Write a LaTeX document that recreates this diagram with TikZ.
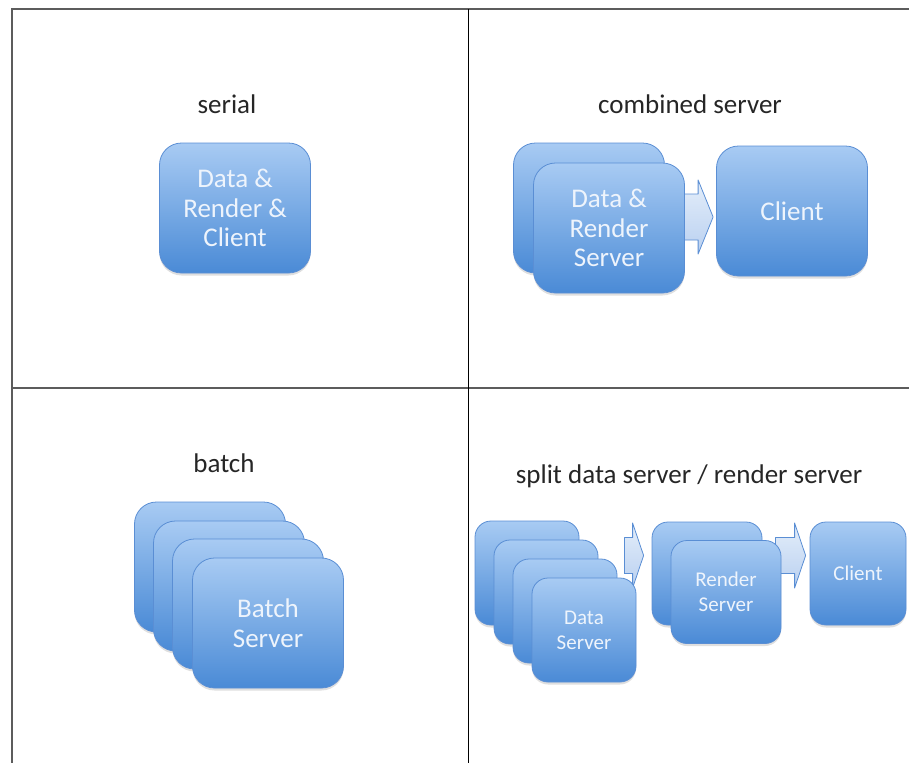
\documentclass[tikz,border=0pt]{standalone}
\usepackage{fontspec}
\setmainfont{Carlito}
\usetikzlibrary{calc,shadows,backgrounds}

\definecolor{boxtop}{HTML}{A8CBF3}
\definecolor{boxbot}{HTML}{4A8AD6}
\definecolor{boxedge}{HTML}{5A8ED4}
\definecolor{boxtext}{HTML}{EEF4FC}
\definecolor{arrtop}{HTML}{E4EEFA}
\definecolor{arrbot}{HTML}{B9D0F0}
\definecolor{framegray}{HTML}{5C5C5C}

\tikzset{
  srv/.style={rectangle, rounded corners=22pt, draw=boxedge, line width=0.8pt,
    top color=boxtop, bottom color=boxbot, text=boxtext, align=center,
    inner sep=0pt, font=\fontsize{27}{29.5}\selectfont,
    drop shadow={shadow xshift=0pt, shadow yshift=-2.5pt, opacity=0.25}},
  bigsrv/.style={srv, minimum width=151pt, minimum height=130pt},
  smallsrv/.style={srv, rounded corners=16pt, font=\fontsize{21}{25}\selectfont},
  title/.style={anchor=base, text=black!85, font=\fontsize{27}{30}\selectfont, inner sep=0pt},
  blockarrow/.style={draw=boxedge, line width=0.8pt, top color=arrtop,
    bottom color=arrbot, line join=round},
  framestroke/.style={draw=framegray, line width=1.6pt},
}

% block arrow: #1 tail, #2 tip, #3 shaft half width, #4 head half width, #5 head length
\newcommand\blockarr[5]{%
  \path[blockarrow] let \p1=#1, \p2=#2 in
    (\x1,\y2+#3pt) -- (\x2-#5pt,\y2+#3pt) -- (\x2-#5pt,\y2+#4pt) -- (\x2,\y2)
    -- (\x2-#5pt,\y2-#4pt) -- (\x2-#5pt,\y2-#3pt) -- (\x1,\y2-#3pt) -- cycle;}

\begin{document}
\begin{tikzpicture}[x=1pt,y=-1pt]
\useasboundingbox (0,0) rectangle (909,763);

% panel grid
\draw[framestroke] (909,9) -- (12,9) -- (12,763);
\draw[framestroke] (12,388) -- (909,388);
\draw[black, line width=1pt] (468,9) -- (468,763);

% serial
\node[title] (tserial) at (227,113) {serial};
\node[bigsrv] (serial) at (235,208) {Data \&\\Render \&\\Client};

% combined server
\node[title] (tcomb) at (690,113) {combined server};
\node[bigsrv] (cback) at (589,208) {};
\node[bigsrv] (cfront) at (609,228) {Data \&\\Render\\Server};
\node[bigsrv] (cclient) at (792,211) {Client};

% batch
\node[title] (tbatch) at (224,472) {batch};
\node[bigsrv] (b1) at (210,567) {};
\node[bigsrv] (b2) at (229,586) {};
\node[bigsrv] (b3) at (248,604) {};
\node[bigsrv] (b4) at (268,623) {Batch\\Server};

% split data server / render server
\node[title] (tsplit) at (689,483) {split data server / render server};
\node[smallsrv, minimum width=104pt, minimum height=104pt] (d1) at (527,573) {};
\node[smallsrv, minimum width=104pt, minimum height=104pt] (d2) at (546,592) {};
\node[smallsrv, minimum width=104pt, minimum height=104pt] (d3) at (565,611) {};
\node[smallsrv, minimum width=104pt, minimum height=104pt] (d4) at (584,630) {Data\\Server};
\node[smallsrv, minimum width=110pt, minimum height=103pt] (rb) at (707,573.5) {};
\node[smallsrv, minimum width=110pt, minimum height=103pt] (rf) at (726,592) {Render\\Server};
\node[smallsrv, minimum width=96pt, minimum height=103pt] (sclient) at (858,573.5) {Client};

% flow arrows, tucked behind the boxes they leave
\begin{scope}[on background layer]
  \blockarr{($(cfront.east)+(-6,0)$)}{($(cclient.west)+(-3,6)$)}{23}{37}{15}
  \blockarr{($(d4.east)+(-12,0)$)}{($(rb.west)+(-8,-18)$)}{18}{32.5}{11}
  \blockarr{($(rf.east)+(-6,0)$)}{($(sclient.west)+(-4,-18)$)}{18}{32.5}{11}
\end{scope}
\end{tikzpicture}
\end{document}
